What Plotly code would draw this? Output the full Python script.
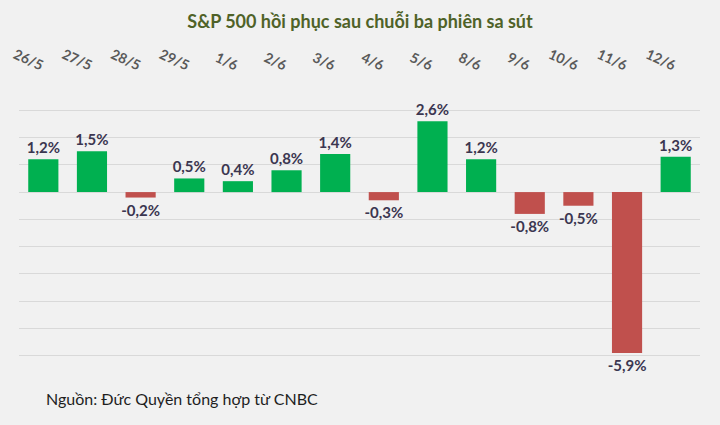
import plotly.graph_objects as go

dates = ["26/5", "27/5", "28/5", "29/5", "1/6", "2/6", "3/6", "4/6", "5/6", "8/6", "9/6", "10/6", "11/6", "12/6"]
changes = [1.2, 1.5, -0.2, 0.5, 0.4, 0.8, 1.4, -0.3, 2.6, 1.2, -0.8, -0.5, -5.9, 1.3]

GREEN = "#00B050"
RED = "#C0504D"
colors = [GREEN if v >= 0 else RED for v in changes]
labels = [("%.1f%%" % v).replace(".", ",") for v in changes]

fig = go.Figure(go.Bar(
    x=dates, y=changes, marker_color=colors, marker_line_width=0,
    text=labels, textposition="outside", cliponaxis=False, constraintext="none",
    textfont=dict(family="Lato", size=15, color="#3B3650", weight="bold"),
))

fig.update_layout(
    width=720, height=425,
    margin=dict(l=19, r=20, t=83, b=42),
    paper_bgcolor="#F1F1F1", plot_bgcolor="#F1F1F1",
    bargap=0.38, showlegend=False,
    title=dict(text="<b>S&P 500 hồi phục sau chuỗi ba phiên sa sút</b>",
               x=0.5, xanchor="center", y=0.948, yanchor="middle",
               font=dict(family="Lato", size=18, color="#4F6228")),
    annotations=[dict(text="Nguồn: Đức Quyền tổng hợp từ CNBC", xref="paper", yref="paper",
                      x=0.036, y=-0.05, xanchor="left", yanchor="middle", showarrow=False,
                      font=dict(family="Lato", size=16, color="#1E1E1E"))],
)
fig.update_xaxes(side="top", tickangle=25, showgrid=False, zeroline=False,
                 ticks="outside", ticklen=5, tickcolor="rgba(0,0,0,0)",
                 tickfont=dict(family="Lato", size=14, color="#595959", weight="bold"))
fig.update_yaxes(range=[-7, 4], dtick=1, showticklabels=False, gridcolor="#D9D9D9",
                 gridwidth=1, zeroline=True, zerolinecolor="#D9D9D9", zerolinewidth=1,
                 showline=False)

fig.write_html("out.html")
